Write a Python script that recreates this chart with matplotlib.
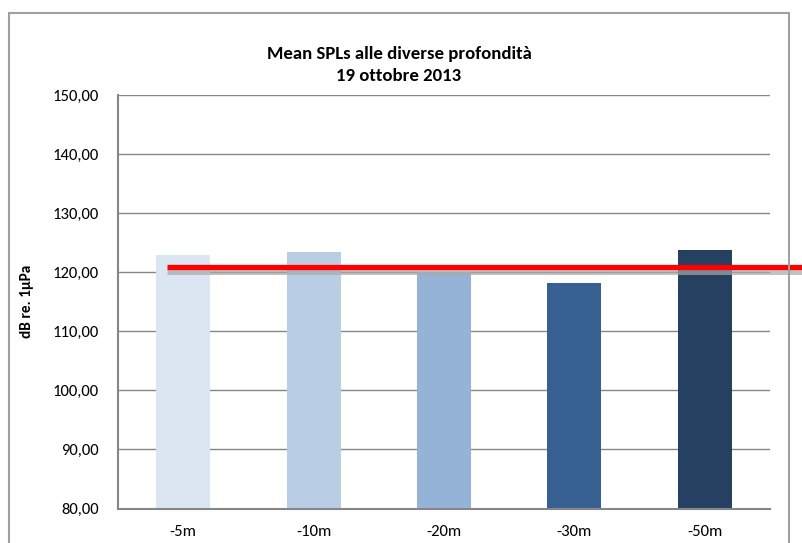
import matplotlib
matplotlib.use("Agg")
import matplotlib.pyplot as plt
from matplotlib.patches import Rectangle
import matplotlib.transforms as mtransforms

categories = ["-5m", "-10m", "-20m", "-30m", "-50m"]
values = [122.9, 123.4, 120.0, 118.2, 123.8]
bar_colors = ["#dce6f2", "#b9cde5", "#95b3d7", "#366092", "#254061"]
threshold = 120.9
title = "Mean SPLs alle diverse profondità\n19 ottobre 2013"
ylabel = "dB re. 1µPa"
yticks = [80, 90, 100, 110, 120, 130, 140, 150]

plt.rcParams['font.family'] = ['Carlito', 'Lato', 'DejaVu Sans']

W, H = 803, 543
fig = plt.figure(figsize=(W / 100, H / 100), dpi=100)
ax = fig.add_axes([118 / W, 1 - 508.5 / H, (770 - 118) / W, (508.5 - 95) / H])

x = list(range(len(categories)))
ax.bar(x, values, width=0.415, color=bar_colors, zorder=2)
ax.set_xlim(-0.5, len(categories) - 0.5)
ax.set_ylim(80, 150)
ax.set_yticks(yticks)
ax.set_yticklabels([f"{v:.2f}".replace(".", ",") for v in yticks], fontsize=12)
ax.set_xticks(x)
ax.set_xticklabels(categories, fontsize=12)
ax.tick_params(axis='y', length=0, pad=14)
ax.tick_params(axis='x', length=0, pad=12)
ax.yaxis.grid(True, color="#868686", linewidth=1.0, zorder=0)
ax.set_axisbelow(True)
for s in ["top", "right"]:
    ax.spines[s].set_visible(False)
for s in ["left", "bottom"]:
    ax.spines[s].set_color("#868686")
    ax.spines[s].set_linewidth(1.5)

# threshold line with shadow
offset = mtransforms.offset_copy(ax.transData, fig=fig, x=0, y=-5, units='dots')
ax.plot([-0.125, 4.9], [threshold, threshold], color="#a8a8a8", linewidth=3.6,
        alpha=0.7, transform=offset, clip_on=False, zorder=3, solid_capstyle='butt')
ax.plot([-0.125, 4.9], [threshold, threshold], color="#ff0000", linewidth=3.8,
        clip_on=False, zorder=4, solid_capstyle='butt')

ax.set_ylabel(ylabel, fontsize=11, fontweight='bold')
ax.yaxis.set_label_coords(-84 / 652, 0.5)

fig.text(399 / W, 1 - 65 / H, title, ha='center', va='center', fontsize=13.5,
         fontweight='bold', linespacing=1.45)

# outer chart border
fig.patches.append(Rectangle((9 / W, -0.05), (789 - 9) / W, 1 - 13 / H + 0.05,
                             transform=fig.transFigure, fill=False,
                             edgecolor="#a0a0a0", linewidth=1.5, zorder=0))

fig.savefig("out.png", dpi=100)
